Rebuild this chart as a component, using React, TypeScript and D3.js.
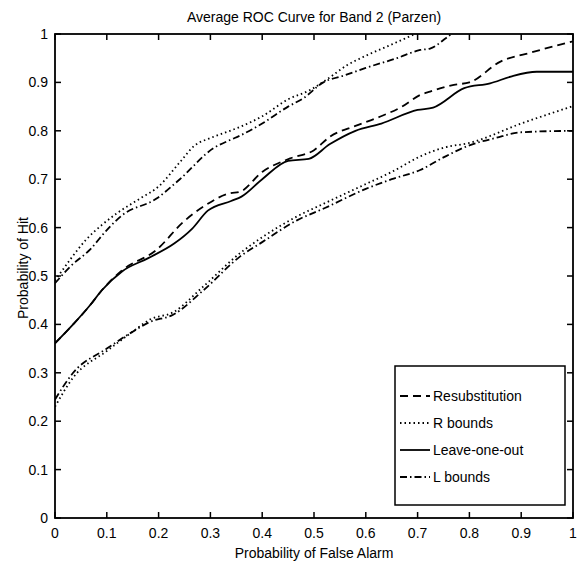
import React from 'react';
import * as d3 from 'd3';

const W = 581;
const H = 563;

const titleText = 'Average ROC Curve for Band 2 (Parzen)';
const xLabelText = 'Probability of False Alarm';
const yLabelText = 'Probability of Hit';

const xTickValues = [0, 0.1, 0.2, 0.3, 0.4, 0.5, 0.6, 0.7, 0.8, 0.9, 1];
const xTickLabels = ['0', '0.1', '0.2', '0.3', '0.4', '0.5', '0.6', '0.7', '0.8', '0.9', '1'];
const yTickValues = [0, 0.1, 0.2, 0.3, 0.4, 0.5, 0.6, 0.7, 0.8, 0.9, 1];
const yTickLabels = ['0', '0.1', '0.2', '0.3', '0.4', '0.5', '0.6', '0.7', '0.8', '0.9', '1'];

// Resubstitution (dashed)
const resubX = [0, 0.035, 0.068, 0.09, 0.13, 0.196, 0.248, 0.286, 0.338, 0.357, 0.4, 0.454, 0.5, 0.531, 0.58, 0.627, 0.67, 0.705, 0.724, 0.77, 0.8, 0.86, 0.92, 1.0];
const resubY = [0.361, 0.4, 0.44, 0.47, 0.512, 0.554, 0.612, 0.643, 0.671, 0.674, 0.715, 0.743, 0.76, 0.788, 0.81, 0.829, 0.85, 0.874, 0.881, 0.895, 0.9, 0.943, 0.962, 0.985];

// R bounds upper (dotted)
const rUpX = [0, 0.03, 0.06, 0.09, 0.12, 0.164, 0.2, 0.241, 0.27, 0.3, 0.338, 0.357, 0.4, 0.45, 0.492, 0.53, 0.563, 0.6, 0.647, 0.695];
const rUpY = [0.49, 0.535, 0.575, 0.605, 0.63, 0.66, 0.685, 0.735, 0.77, 0.785, 0.8, 0.808, 0.83, 0.865, 0.884, 0.91, 0.935, 0.955, 0.977, 1.0];

// R bounds lower (dotted)
const rLowX = [0, 0.035, 0.1, 0.15, 0.183, 0.228, 0.286, 0.357, 0.4, 0.467, 0.52, 0.6, 0.65, 0.705, 0.75, 0.8, 0.9, 1.0];
const rLowY = [0.23, 0.29, 0.345, 0.385, 0.41, 0.425, 0.478, 0.547, 0.58, 0.623, 0.65, 0.69, 0.715, 0.747, 0.765, 0.775, 0.815, 0.851];

// Leave-one-out (solid)
const looX = [0, 0.035, 0.068, 0.09, 0.13, 0.18, 0.23, 0.265, 0.295, 0.34, 0.36, 0.4, 0.45, 0.49, 0.53, 0.58, 0.63, 0.7, 0.73, 0.79, 0.84, 0.88, 0.93, 1.0];
const looY = [0.361, 0.4, 0.44, 0.47, 0.51, 0.537, 0.567, 0.598, 0.635, 0.655, 0.664, 0.7, 0.738, 0.742, 0.772, 0.8, 0.815, 0.843, 0.848, 0.888, 0.898, 0.912, 0.922, 0.922];

// L bounds upper (dash-dot)
const lUpX = [0, 0.03, 0.068, 0.1, 0.129, 0.196, 0.241, 0.306, 0.338, 0.357, 0.4, 0.45, 0.479, 0.518, 0.56, 0.6, 0.66, 0.705, 0.724, 0.753, 0.765];
const lUpY = [0.485, 0.52, 0.555, 0.595, 0.625, 0.66, 0.7, 0.764, 0.781, 0.79, 0.815, 0.85, 0.867, 0.9, 0.915, 0.93, 0.95, 0.967, 0.97, 0.99, 1.0];

// L bounds lower (dash-dot)
const lLowX = [0, 0.035, 0.1, 0.15, 0.183, 0.228, 0.286, 0.357, 0.4, 0.467, 0.52, 0.6, 0.65, 0.705, 0.75, 0.8, 0.85, 0.9, 1.0];
const lLowY = [0.245, 0.3, 0.35, 0.385, 0.405, 0.42, 0.47, 0.54, 0.57, 0.615, 0.64, 0.68, 0.7, 0.719, 0.745, 0.77, 0.785, 0.797, 0.8];

const legendLabels = ['Resubstitution', 'R bounds', 'Leave-one-out', 'L bounds'];

const DASHED = '8,5';
const DOTTED = '1.5,3';
const SOLID = 'none';
const DASHDOT = '7,3,1.5,3';

const FONT = "'Liberation Sans', Arial, Helvetica, sans-serif";

export default function App() {
  const left = 55, right = 573, top = 34, bottom = 518;
  const x = d3.scaleLinear().domain([0, 1]).range([left, right]);
  const y = d3.scaleLinear().domain([0, 1]).range([bottom, top]);
  const line = d3.line<number>().curve(d3.curveMonotoneX);

  const mk = (xs: number[], ys: number[]) =>
    line.x((_, i) => x(xs[i])).y((_, i) => y(ys[i]))(xs as any) || '';

  const series = [
    { xs: resubX, ys: resubY, dash: DASHED },
    { xs: rUpX, ys: rUpY, dash: DOTTED },
    { xs: rLowX, ys: rLowY, dash: DOTTED },
    { xs: looX, ys: looY, dash: SOLID },
    { xs: lUpX, ys: lUpY, dash: DASHDOT },
    { xs: lLowX, ys: lLowY, dash: DASHDOT },
  ];
  const legendDash = [DASHED, DOTTED, SOLID, DASHDOT];
  const tickLen = 6;

  const lgX = 395, lgY = 366, lgW = 170, lgH = 139;

  return (
    <svg width={W} height={H} style={{ position: 'absolute', left: 0, top: 0, background: '#fff' }} fontFamily={FONT}>
      <defs>
        <clipPath id="plotclip">
          <rect x={left} y={top} width={right - left} height={bottom - top} />
        </clipPath>
      </defs>
      <rect x={0} y={0} width={W} height={H} fill="#fff" />
      <text x={(left + right) / 2} y={22} textAnchor="middle" fontSize={14}>{titleText}</text>

      <g clipPath="url(#plotclip)">
        {series.map((s, i) => (
          <path key={i} d={mk(s.xs, s.ys)} fill="none" stroke="#000" strokeWidth={1.8}
            strokeDasharray={s.dash === 'none' ? undefined : s.dash} />
        ))}
      </g>

      {/* axes box */}
      <rect x={left} y={top} width={right - left} height={bottom - top} fill="none" stroke="#000" strokeWidth={1.8} />

      {xTickValues.map((v, i) => (
        <g key={'xt' + i}>
          <line x1={x(v)} x2={x(v)} y1={bottom} y2={bottom - tickLen} stroke="#000" strokeWidth={1.5} />
          <line x1={x(v)} x2={x(v)} y1={top} y2={top + tickLen} stroke="#000" strokeWidth={1.5} />
          <text x={x(v)} y={538} textAnchor="middle" fontSize={14}>{xTickLabels[i]}</text>
        </g>
      ))}
      {yTickValues.map((v, i) => (
        <g key={'yt' + i}>
          <line x1={left} x2={left + tickLen} y1={y(v)} y2={y(v)} stroke="#000" strokeWidth={1.5} />
          <line x1={right} x2={right - tickLen} y1={y(v)} y2={y(v)} stroke="#000" strokeWidth={1.5} />
          <text x={48} y={y(v)} dy="0.35em" textAnchor="end" fontSize={14}>{yTickLabels[i]}</text>
        </g>
      ))}

      <text x={(left + right) / 2} y={558} textAnchor="middle" fontSize={14}>{xLabelText}</text>
      <text transform={`translate(28,268) rotate(-90)`} textAnchor="middle" fontSize={14}>{yLabelText}</text>

      {/* legend */}
      <rect x={lgX} y={lgY} width={lgW} height={lgH} fill="#fff" stroke="#000" strokeWidth={1.5} />
      {legendLabels.map((lab, i) => {
        const cy = 396 + i * 27;
        return (
          <g key={'lg' + i}>
            <line x1={400} x2={430} y1={cy} y2={cy} stroke="#000" strokeWidth={1.8}
              strokeDasharray={legendDash[i] === 'none' ? undefined : legendDash[i]} />
            <text x={433} y={cy} dy="0.35em" fontSize={14}>{lab}</text>
          </g>
        );
      })}
    </svg>
  );
}
